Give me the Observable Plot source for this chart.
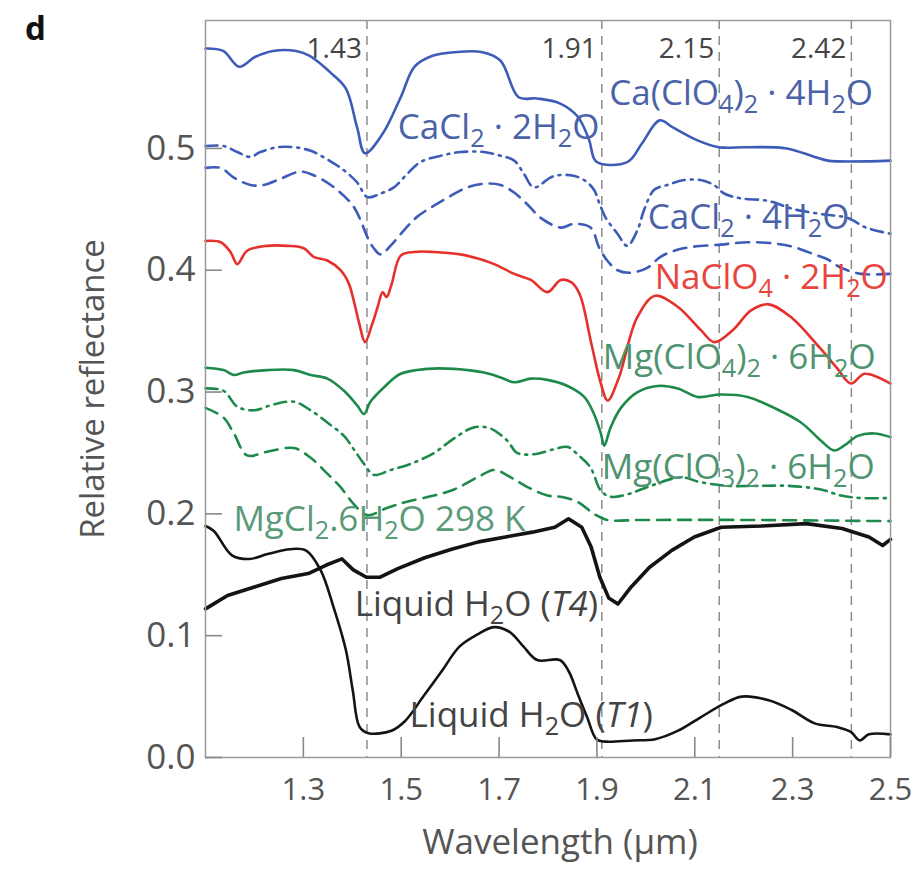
<!DOCTYPE html>
<html><head><meta charset="utf-8">
<script src="https://cdn.jsdelivr.net/npm/d3@7"></script>
<script src="https://cdn.jsdelivr.net/npm/@observablehq/plot@0.6"></script>
<style>
body{margin:0;background:#fff;}
#wrap{position:relative;width:913px;height:870px;}
#panel{position:absolute;left:25px;top:11px;font:bold 33px/1 "Open Sans",sans-serif;color:#111;}
</style></head><body>
<div id="wrap"><div id="panel">d</div><div id="chart"></div></div>
<script>
// ---- axis / annotation values ----
const xTicks = [1.3, 1.5, 1.7, 1.9, 2.1, 2.3, 2.5];
const yTicks = [0, 0.1, 0.2, 0.3, 0.4, 0.5];
const bandCenters = [1.43, 1.91, 2.15, 2.42];
const bandLabels = ["1.43", "1.91", "2.15", "2.42"];

// ---- Ca(ClO4)2·4H2O (blue solid) ----
const caPerX = [1.10,1.136,1.169,1.201,1.238,1.285,1.313,1.359,1.387,1.410,1.426,1.462,1.499,1.527,1.564,1.610,1.666,1.703,1.740,1.778,1.824,1.861,1.884,1.899,1.963,1.992,2.028,2.056,2.103,2.149,2.205,2.288,2.345,2.372,2.50];
const caPerY = [0.582,0.580,0.567,0.575,0.580,0.580,0.576,0.561,0.549,0.517,0.496,0.512,0.542,0.567,0.576,0.579,0.579,0.572,0.542,0.541,0.537,0.526,0.507,0.489,0.489,0.504,0.523,0.517,0.507,0.501,0.501,0.500,0.493,0.490,0.490];

// ---- CaCl2·2H2O (blue dash-dot) ----
const caCl2X = [1.10,1.137,1.165,1.192,1.212,1.247,1.281,1.315,1.349,1.383,1.410,1.431,1.458,1.485,1.512,1.540,1.581,1.621,1.669,1.703,1.731,1.751,1.771,1.810,1.846,1.874,1.894,1.904,1.918,1.942,1.962,1.983,1.996,2.017,2.044,2.078,2.112,2.139,2.160,2.194,2.249,2.303,2.360,2.412,2.450,2.50];
const caCl2Y = [0.502,0.502,0.497,0.493,0.497,0.501,0.501,0.498,0.491,0.482,0.472,0.460,0.463,0.468,0.479,0.489,0.494,0.497,0.497,0.494,0.490,0.479,0.468,0.477,0.478,0.474,0.466,0.456,0.443,0.430,0.420,0.433,0.449,0.466,0.470,0.474,0.474,0.470,0.463,0.459,0.457,0.450,0.446,0.443,0.435,0.430];

// ---- CaCl2·4H2O (blue dashed) ----
const caCl4X = [1.10,1.131,1.158,1.192,1.219,1.253,1.294,1.321,1.356,1.383,1.403,1.417,1.431,1.444,1.458,1.478,1.506,1.533,1.567,1.601,1.635,1.669,1.703,1.730,1.758,1.785,1.826,1.853,1.887,1.904,1.921,1.942,1.969,2.003,2.030,2.058,2.092,2.153,2.208,2.262,2.303,2.344,2.371,2.399,2.440,2.50];
const caCl4Y = [0.484,0.484,0.476,0.470,0.470,0.475,0.481,0.478,0.470,0.461,0.452,0.441,0.427,0.418,0.413,0.420,0.433,0.444,0.453,0.461,0.468,0.471,0.470,0.464,0.454,0.443,0.435,0.438,0.435,0.419,0.408,0.400,0.398,0.402,0.411,0.416,0.419,0.421,0.423,0.422,0.419,0.413,0.409,0.402,0.397,0.397];

// ---- NaClO4·2H2O (red) ----
const naX = [1.10,1.131,1.151,1.165,1.185,1.226,1.267,1.301,1.321,1.349,1.376,1.393,1.403,1.415,1.426,1.440,1.452,1.462,1.470,1.480,1.499,1.526,1.567,1.621,1.662,1.690,1.731,1.765,1.799,1.826,1.848,1.865,1.889,1.908,1.922,1.945,1.982,2.019,2.065,2.112,2.140,2.178,2.215,2.251,2.298,2.354,2.390,2.419,2.447,2.50];
const naY = [0.424,0.423,0.415,0.405,0.416,0.420,0.420,0.418,0.411,0.408,0.400,0.389,0.375,0.355,0.341,0.355,0.370,0.382,0.378,0.388,0.412,0.415,0.415,0.413,0.409,0.405,0.397,0.392,0.382,0.392,0.390,0.380,0.339,0.307,0.293,0.312,0.361,0.379,0.370,0.351,0.341,0.351,0.367,0.372,0.361,0.337,0.320,0.307,0.315,0.307];

// ---- Mg(ClO4)2·6H2O (green solid) ----
const mgPerX = [1.10,1.137,1.158,1.178,1.226,1.281,1.315,1.349,1.383,1.410,1.424,1.437,1.465,1.499,1.553,1.608,1.669,1.703,1.731,1.765,1.799,1.840,1.874,1.894,1.908,1.915,1.928,1.949,1.983,2.024,2.065,2.106,2.153,2.208,2.262,2.317,2.358,2.385,2.405,2.433,2.467,2.50];
const mgPerY = [0.320,0.318,0.314,0.316,0.318,0.318,0.314,0.311,0.301,0.289,0.282,0.292,0.304,0.315,0.319,0.319,0.316,0.312,0.308,0.311,0.310,0.305,0.296,0.282,0.266,0.256,0.271,0.287,0.300,0.305,0.303,0.296,0.298,0.296,0.287,0.275,0.260,0.252,0.256,0.264,0.266,0.263];

// ---- Mg(ClO3)2·6H2O (green dash-dot) ----
const mgChlX = [1.10,1.137,1.165,1.199,1.240,1.281,1.315,1.349,1.383,1.403,1.424,1.444,1.478,1.519,1.567,1.608,1.649,1.683,1.717,1.737,1.771,1.812,1.840,1.860,1.887,1.908,1.928,1.962,2.010,2.071,2.112,2.167,2.228,2.290,2.358,2.399,2.440,2.50];
const mgChlY = [0.303,0.301,0.288,0.285,0.290,0.292,0.285,0.275,0.264,0.253,0.241,0.232,0.236,0.241,0.250,0.262,0.271,0.270,0.260,0.250,0.249,0.253,0.255,0.249,0.238,0.219,0.214,0.216,0.223,0.230,0.226,0.223,0.223,0.223,0.220,0.215,0.213,0.213];

// ---- MgCl2·6H2O 298 K (green dashed) ----
const mgClX = [1.10,1.137,1.158,1.185,1.226,1.281,1.315,1.349,1.376,1.403,1.430,1.472,1.512,1.567,1.608,1.656,1.690,1.724,1.758,1.799,1.826,1.860,1.894,1.921,1.990,2.200,2.50];
const mgClY = [0.287,0.279,0.266,0.248,0.251,0.254,0.246,0.233,0.222,0.208,0.199,0.205,0.210,0.215,0.220,0.230,0.236,0.230,0.222,0.215,0.214,0.210,0.200,0.195,0.195,0.195,0.194];

// ---- Liquid H2O (T4) (black, noisy) ----
const t4X = [1.10,1.145,1.20,1.255,1.31,1.347,1.379,1.402,1.429,1.457,1.493,1.548,1.603,1.658,1.713,1.768,1.814,1.842,1.869,1.888,1.906,1.924,1.943,1.970,2.007,2.053,2.099,2.154,2.236,2.328,2.401,2.456,2.484,2.50];
const t4Y = [0.122,0.133,0.140,0.147,0.151,0.158,0.163,0.154,0.148,0.148,0.155,0.164,0.171,0.177,0.181,0.185,0.189,0.196,0.189,0.173,0.148,0.131,0.126,0.140,0.156,0.170,0.181,0.189,0.190,0.192,0.188,0.181,0.174,0.179];

// ---- Liquid H2O (T1) (black) ----
const t1X = [1.10,1.117,1.154,1.190,1.227,1.273,1.305,1.335,1.362,1.387,1.401,1.415,1.433,1.480,1.508,1.545,1.583,1.619,1.656,1.689,1.722,1.750,1.778,1.824,1.842,1.861,1.880,1.899,1.917,1.973,2.019,2.066,2.112,2.159,2.196,2.251,2.298,2.345,2.391,2.419,2.437,2.456,2.50];
const t1Y = [0.190,0.186,0.166,0.163,0.167,0.171,0.170,0.154,0.123,0.088,0.055,0.025,0.020,0.022,0.030,0.050,0.071,0.091,0.101,0.107,0.103,0.091,0.080,0.080,0.071,0.052,0.033,0.015,0.013,0.014,0.015,0.022,0.033,0.044,0.050,0.047,0.039,0.028,0.025,0.021,0.014,0.019,0.019];

// ---- curve labels (text, anchor wavelength, anchor reflectance) ----
const labelTexts = ["Ca(ClO₄)₂ · 4H₂O","CaCl₂ · 2H₂O","CaCl₂ · 4H₂O","NaClO₄ · 2H₂O","Mg(ClO₄)₂ · 6H₂O","Mg(ClO₃)₂ · 6H₂O","MgCl₂.6H₂O 298 K","Liquid H₂O (T4)","Liquid H₂O (T1)"];
const labelX = [1.925,1.493,2.004,2.018,1.912,1.910,1.157,1.405,1.517];
const labelY = [0.545,0.517,0.443,0.394,0.328,0.238,0.195,0.125,0.034];

const BLUE = "#3d5cb8", RED = "#e5302c", GREEN = "#1d8a4c", BLACK = "#141414";
const labelColors = ["#4a62a8","#4a62a8","#4a62a8","#e8453f","#4f9470","#4f9470","#5a9a78","#444","#444"];

const rows = (xs, ys) => xs.map((x, i) => ({x, y: ys[i]}));
const DASHDOT = "12,6,2,6", DASHED = "13,8";

const lineSpecs = [
  {d: rows(caPerX, caPerY), stroke: BLUE, dash: null, w: 2.6},
  {d: rows(caCl2X, caCl2Y), stroke: BLUE, dash: DASHDOT, w: 2.6},
  {d: rows(caCl4X, caCl4Y), stroke: BLUE, dash: DASHED, w: 2.6},
  {d: rows(naX, naY), stroke: RED, dash: null, w: 2.6},
  {d: rows(mgPerX, mgPerY), stroke: GREEN, dash: null, w: 2.6},
  {d: rows(mgChlX, mgChlY), stroke: GREEN, dash: DASHDOT, w: 2.6},
  {d: rows(mgClX, mgClY), stroke: GREEN, dash: DASHED, w: 2.6},
  {d: rows(t4X, t4Y), stroke: BLACK, dash: null, w: 3.6, curve: "linear"},
  {d: rows(t1X, t1Y), stroke: BLACK, dash: null, w: 2.6}
];

const labelRows = labelTexts.map((t, i) => ({text: t, x: labelX[i], y: labelY[i], color: labelColors[i]}));

const chart = Plot.plot({
  width: 913, height: 870,
  marginTop: 20, marginRight: 23, marginBottom: 113, marginLeft: 205,
  x: {domain: [1.1, 2.5], label: null},
  y: {domain: [0, 0.605], label: null},
  color: {type: "identity"},
  style: {fontFamily: "'Open Sans', sans-serif", background: "#fff", color: "#555", overflow: "visible"},
  marks: [
    Plot.ruleX(bandCenters, {stroke: "#8c8c8c", strokeDasharray: "9,7", strokeWidth: 1.5}),
    Plot.text(bandCenters, {x: d => d, text: (d, i) => bandLabels[i], frameAnchor: "top", dy: 18, dx: -5, textAnchor: "end", fontSize: 28, fill: "#444"}),
    ...lineSpecs.map(s => Plot.line(s.d, {x: "x", y: "y", stroke: s.stroke, strokeWidth: s.w, strokeDasharray: s.dash, curve: s.curve || "catmull-rom"})),
    Plot.text(labelRows, {x: "x", y: "y", text: "text", fill: "color", textAnchor: "start", fontSize: 35}),
    Plot.frame({stroke: "#9a9a9a", strokeWidth: 1.5}),
    Plot.axisX({ticks: xTicks, tickSize: -20, tickPadding: 40, tickFormat: d => d.toFixed(1), fontSize: 31, stroke: "#888", strokeWidth: 1.6, fill: "#555"}),
    Plot.axisY({ticks: yTicks, tickSize: -17, tickPadding: 27, tickFormat: d => d.toFixed(1), fontSize: 35, stroke: "#888", strokeWidth: 1.6, fill: "#555"}),
    Plot.text(["Relative reflectance"], {frameAnchor: "left", textAnchor: "middle", rotate: -90, dx: -112, fontSize: 33, fill: "#555"}),
    Plot.text(["Wavelength (μm)"], {frameAnchor: "bottom", dy: 96, dx: 12, fontSize: 35, fill: "#555"})
  ]
});

// rich text: subscripts and italic T labels as real tspans
const SVGNS = "http://www.w3.org/2000/svg";
const subMap = {"₂": "2", "₃": "3", "₄": "4"};
chart.querySelectorAll("text").forEach(t => {
  const s = t.textContent;
  if (!/[₂₃₄]|\(T[14]\)/.test(s)) return;
  const parts = [];
  for (let i = 0; i < s.length; ) {
    const ch = s[i];
    let p;
    if (subMap[ch]) { p = {t: subMap[ch], k: "sub"}; i++; }
    else if (ch === "T" && /[14]/.test(s[i + 1] || "")) { p = {t: s.slice(i, i + 2), k: "it"}; i += 2; }
    else { p = {t: ch, k: "n"}; i++; }
    const last = parts[parts.length - 1];
    if (last && last.k === p.k) last.t += p.t; else parts.push(p);
  }
  t.textContent = "";
  parts.forEach(p => {
    const ts = document.createElementNS(SVGNS, "tspan");
    ts.textContent = p.t;
    if (p.k === "sub") { ts.setAttribute("font-size", "72%"); ts.setAttribute("baseline-shift", "-30%"); }
    if (p.k === "it") ts.setAttribute("font-style", "italic");
    t.appendChild(ts);
  });
});

document.getElementById("chart").appendChild(chart);
</script>
</body></html>
